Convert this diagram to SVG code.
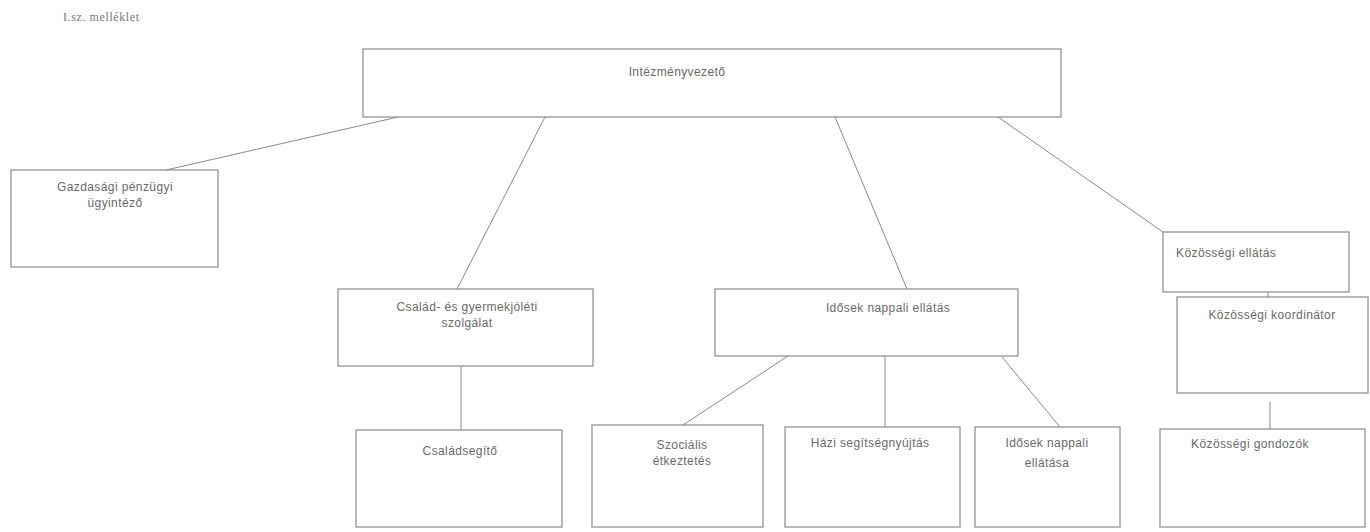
<svg xmlns="http://www.w3.org/2000/svg" width="1370" height="532" viewBox="0 0 1370 532">
<style>
.box{fill:#fff;stroke:#8a8a8a;stroke-width:1.2}
.t{font-family:"Liberation Sans",Arial,sans-serif;font-size:12px;letter-spacing:0.4px;fill:#6a6a6a;text-anchor:middle}
.c{stroke:#8a8a8a;stroke-width:1;fill:none}
</style>
<rect width="1370" height="532" fill="#fff"/>
<text x="63" y="21" style="font-family:'Liberation Serif',serif;font-size:12px;letter-spacing:0.6px;fill:#777">I.sz. melléklet</text>
<g id="connectors">
<line class="c" x1="398" y1="117" x2="166" y2="170"/>
<line class="c" x1="545" y1="117" x2="457" y2="289"/>
<line class="c" x1="835" y1="117" x2="907" y2="289"/>
<line class="c" x1="998" y1="117" x2="1163" y2="232"/>
<line class="c" x1="461" y1="366" x2="461" y2="430"/>
<line class="c" x1="788" y1="356" x2="683" y2="425"/>
<line class="c" x1="885" y1="356" x2="885" y2="427"/>
<line class="c" x1="1002" y1="357" x2="1060" y2="427"/>
<line class="c" x1="1268" y1="292" x2="1268" y2="297"/>
<line class="c" x1="1270" y1="402" x2="1270" y2="429"/>
</g>
<g id="n-intezmenyvezeto"><rect class="box" x="363" y="49" width="698" height="68"/><text class="t" x="677" y="76">Intézményvezető</text></g>
<g id="n-gazdasagi"><rect class="box" x="11" y="170" width="207" height="97"/><text class="t" x="115" y="191">Gazdasági pénzügyi</text><text class="t" x="115" y="207">ügyintéző</text></g>
<g id="n-csalad"><rect class="box" x="338" y="289" width="255" height="77"/><text class="t" x="467" y="311">Család- és gyermekjóléti</text><text class="t" x="467" y="327">szolgálat</text></g>
<g id="n-idosek"><rect class="box" x="715" y="289" width="303" height="67"/><text class="t" x="888" y="312">Idősek nappali ellátás</text></g>
<g id="n-kozossegi"><rect class="box" x="1163" y="232" width="186" height="60"/><text class="t" x="1176" y="257" style="text-anchor:start">Közösségi ellátás</text></g>
<g id="n-koordinator"><rect class="box" x="1177" y="297" width="191" height="96"/><text class="t" x="1272" y="319">Közösségi koordinátor</text></g>
<g id="n-csaladsegito"><rect class="box" x="356" y="430" width="206" height="97"/><text class="t" x="460" y="455">Családsegítő</text></g>
<g id="n-szocialis"><rect class="box" x="592" y="425" width="171" height="102"/><text class="t" x="682" y="449">Szociális</text><text class="t" x="682" y="465">étkeztetés</text></g>
<g id="n-hazi"><rect class="box" x="785" y="427" width="175" height="100"/><text class="t" x="870" y="447">Házi segítségnyújtás</text></g>
<g id="n-idosek2"><rect class="box" x="975" y="427" width="145" height="100"/><text class="t" x="1047" y="447">Idősek nappali</text><text class="t" x="1047" y="467">ellátása</text></g>
<g id="n-gondozok"><rect class="box" x="1160" y="429" width="205" height="98"/><text class="t" x="1250" y="448">Közösségi gondozók</text></g>
</svg>
